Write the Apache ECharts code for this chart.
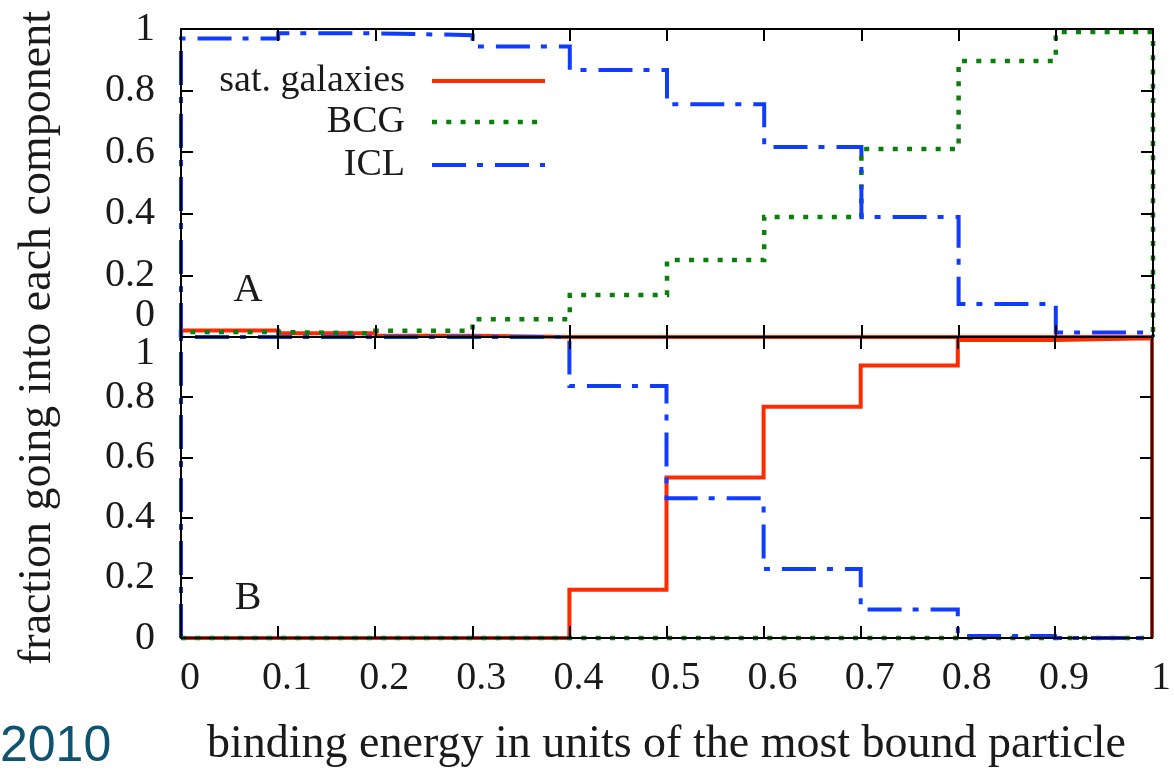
<!DOCTYPE html>
<html><head><meta charset="utf-8">
<script src="https://cdn.jsdelivr.net/npm/echarts@6/dist/echarts.min.js"></script>
<style>html,body{margin:0;padding:0;background:#fff}#c{width:1174px;height:769px}</style>
</head><body><div id="c"></div>
<script>
// ---- data ----
const binEdges = [0, 0.1, 0.2, 0.3, 0.4, 0.5, 0.6, 0.7, 0.8, 0.9, 1];
const xTickLabels = ['0', '0.1', '0.2', '0.3', '0.4', '0.5', '0.6', '0.7', '0.8', '0.9', '1'];
const yTickLabels = ['0', '0.2', '0.4', '0.6', '0.8', '1'];
const seriesNames = ['sat. galaxies', 'BCG', 'ICL'];
// Panel A
const satA = [0.021, 0.012, 0.004, 0, 0, 0, 0, 0, 0, 0];
const bcgA = [0.016, 0.012, 0.02, 0.058, 0.136, 0.25, 0.39, 0.61, 0.896, 0.99];
const iclA = [0.969, 0.986, 0.98, 0.943, 0.867, 0.756, 0.617, 0.39, 0.107, 0.015];
// Panel B
const satB = [0, 0, 0, 0, 0.16, 0.533, 0.768, 0.905, 0.99, 0.996];
const bcgB = [0, 0, 0, 0, 0, 0, 0, 0, 0, 0];
const iclB = [1, 1, 1, 1, 0.837, 0.464, 0.229, 0.095, 0.007, 0];

// ---- style ----
const SERIF = '"Liberation Serif", "DejaVu Serif", serif';
const RED = '#ff2a00', GREEN = '#0a800a', BLUE = '#0f3cff';
const FS = 40;
const TITLE_FS = 46;
const styles = [
  { color: RED, width: 4, type: 'solid' },
  { color: GREEN, width: 4.5, type: [5, 9.3] },
  { color: BLUE, width: 4, type: [34, 11, 6, 12] }
];

function steps(vals) {
  const pts = [[binEdges[0], 0]];
  vals.forEach((v, i) => { pts.push([binEdges[i], v]); pts.push([binEdges[i + 1], v]); });
  pts.push([binEdges[binEdges.length - 1], 0]);
  return pts;
}

const chart = echarts.init(document.getElementById('c'), null, { renderer: 'canvas' });

const axLine = { show: true, onZero: false, lineStyle: { color: '#000', width: 2 } };
const axTick = { show: true, inside: true, length: 12, lineStyle: { color: '#000', width: 2 } };

function xAx(grid, pos, labels) {
  return {
    type: 'value', gridIndex: grid, position: pos, min: 0, max: 1, interval: 0.1, z: 10,
    axisLine: axLine, axisTick: axTick, splitLine: { show: false },
    axisLabel: labels ? {
      show: true, margin: 20, fontFamily: SERIF, fontSize: FS, color: '#1a1a1a',
      padding: [0, 0, 0, 18], hideOverlap: false,
      formatter: v => xTickLabels[Math.round(v * 10)],
      showMinLabel: true, showMaxLabel: true
    } : { show: false },
    name: labels ? 'binding energy in units of the most bound particle' : '',
    nameLocation: 'middle', nameGap: 84,
    nameTextStyle: { fontFamily: SERIF, fontSize: TITLE_FS, color: '#1a1a1a' }
  };
}
// skipIdx: tick label drawn separately (shifted to avoid the panel join)
function yAx(grid, pos, labels, skipIdx) {
  return {
    type: 'value', gridIndex: grid, position: pos, min: 0, max: 1, interval: 0.2, z: 10,
    axisLine: axLine, axisTick: axTick, splitLine: { show: false },
    axisLabel: labels ? {
      show: true, margin: 26, fontFamily: SERIF, fontSize: FS, color: '#1a1a1a',
      showMinLabel: true, showMaxLabel: true, hideOverlap: false,
      formatter: v => {
        const k = Math.round(v * 5);
        return k === skipIdx ? '' : yTickLabels[k];
      }
    } : { show: false }
  };
}

const panels = [[satA, bcgA, iclA], [satB, bcgB, iclB]];
const series = [];
panels.forEach((p, pi) => {
  p.forEach((vals, si) => {
    series.push({
      type: 'line', name: seriesNames[si],
      xAxisIndex: pi * 2, yAxisIndex: pi * 2,
      data: steps(vals), symbol: 'none', clip: false, animation: false,
      lineStyle: { color: styles[si].color, width: styles[si].width, type: styles[si].type, cap: 'butt', join: 'miter' },
      z: 2 + si
    });
  });
});

const txt = (s, x, y, font, align, extra) => Object.assign({ type: 'text', x: x, y: y, z: 20,
  style: { text: s, font: font, fill: '#1a1a1a', textAlign: align, textVerticalAlign: 'middle' } }, extra || {});

// legend drawn as graphic elements
const legendY = [81, 122, 165];
const graphic = [];
seriesNames.forEach((n, i) => {
  graphic.push(txt(n, 405, legendY[i], '38px ' + SERIF, 'right'));
  graphic.push({ type: 'line', z: 20, shape: { x1: 432, y1: legendY[i], x2: 545, y2: legendY[i] },
    style: { stroke: styles[i].color, lineWidth: styles[i].width, lineDash: styles[i].type === 'solid' ? null : styles[i].type } });
});
// shifted tick labels at the panel join
graphic.push(txt(yTickLabels[0], 155, 315, FS + 'px ' + SERIF, 'right'));
graphic.push(txt(yTickLabels[5], 155, 353, FS + 'px ' + SERIF, 'right'));
graphic.push(txt('A', 248, 290, FS + 'px ' + SERIF, 'center'));
graphic.push(txt('B', 248, 598, FS + 'px ' + SERIF, 'center'));
graphic.push(txt('fraction going into each component', 38, 338, TITLE_FS + 'px ' + SERIF, 'center', { rotation: Math.PI / 2 }));
graphic.push({ type: 'text', x: 0, y: 747, z: 20, style: { text: '2010', font: '50px "Liberation Sans", Arial, sans-serif', fill: '#0e5470', textAlign: 'left', textVerticalAlign: 'middle' } });

chart.setOption({
  animation: false,
  backgroundColor: '#fff',
  grid: [
    { left: 181, top: 29, width: 972, height: 308, containLabel: false },
    { left: 181, top: 337, width: 972, height: 306, containLabel: false }
  ],
  xAxis: [xAx(0, 'bottom', false), xAx(0, 'top', false), xAx(1, 'bottom', true), xAx(1, 'top', false)],
  yAxis: [yAx(0, 'left', true, 0), yAx(0, 'right', false), yAx(1, 'left', true, 5), yAx(1, 'right', false)],
  series: series,
  graphic: graphic
});
</script>
</body></html>
